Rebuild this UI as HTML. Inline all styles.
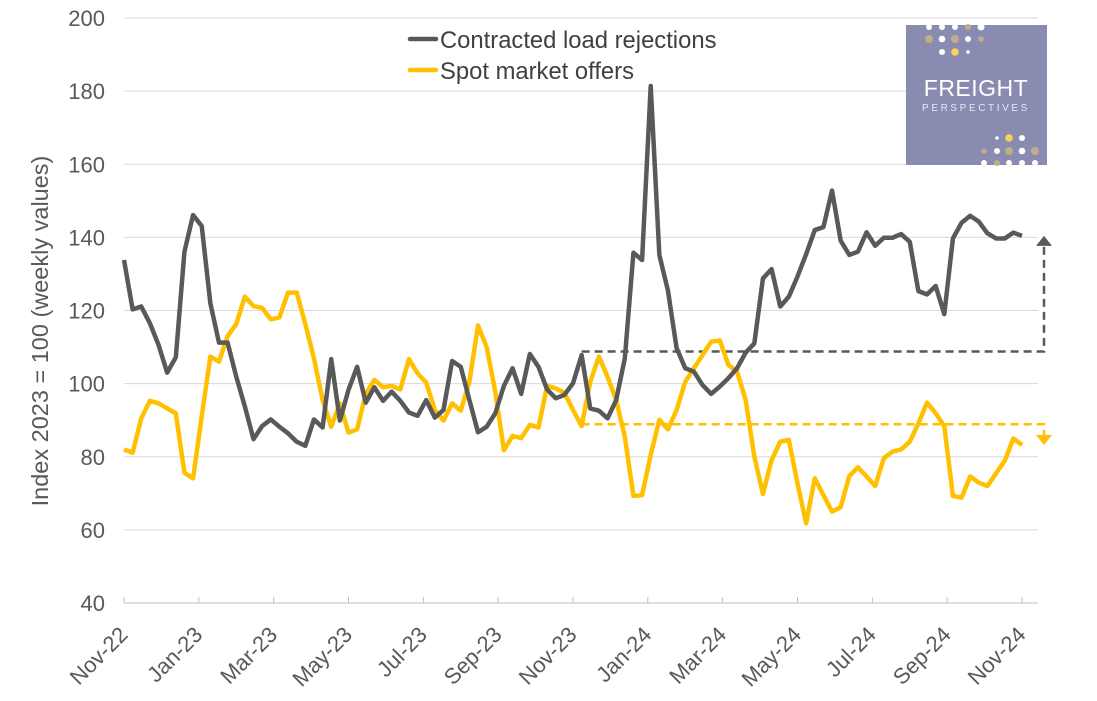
<!DOCTYPE html>
<html><head><meta charset="utf-8"><style>
body{margin:0;background:#fff;}
svg{display:block;font-family:"Liberation Sans",Arial,sans-serif;}
</style></head><body>
<svg id="chart" width="1097" height="701" viewBox="0 0 1097 701" xmlns="http://www.w3.org/2000/svg">
<g id="grid"></g>
<g id="yticks"></g>
<g id="xticks"></g>
<text transform="translate(48,331) rotate(-90)" text-anchor="middle" font-size="23.5" fill="#595959">Index 2023 = 100 (weekly values)</text>
<g id="annot"></g>
<g id="series"></g>
<g>
<g>
<line x1="410" y1="39" x2="436" y2="39" stroke="#595959" stroke-width="4.5" stroke-linecap="round"/>
<text x="440" y="48" font-size="23.8" fill="#404040">Contracted load rejections</text></g>
<g>
<line x1="410" y1="70" x2="436" y2="70" stroke="#FFC000" stroke-width="4.5" stroke-linecap="round"/>
<text x="440" y="79" font-size="23.8" fill="#404040">Spot market offers</text></g>
</g>
<g>
<rect x="906" y="25" width="141" height="140" fill="#8a8bb0"/>
<g id="dots"></g>
<text x="976" y="96" text-anchor="middle" font-size="23" fill="#fff" letter-spacing="0.5">FREIGHT</text>
<text x="976" y="111" text-anchor="middle" font-size="10" fill="#e8e8f2" letter-spacing="2.6">PERSPECTIVES</text>
</g>
</svg>
<script>
const NS="http://www.w3.org/2000/svg";
const yTicks=[40,60,80,100,120,140,160,180,200];
const xLabels=["Nov-22","Jan-23","Mar-23","May-23","Jul-23","Sep-23","Nov-23","Jan-24","Mar-24","May-24","Jul-24","Sep-24","Nov-24"];
const contracted=[133.8,120.3,121.1,116.5,110.6,103,107.2,136.1,146.1,143.1,122,111.2,111.2,101.9,93.7,84.8,88.4,90.2,88.2,86.4,84.1,83,90.2,88,106.7,89.9,98.3,104.6,94.8,99,95.3,97.8,95.3,92.1,91.2,95.5,90.7,92.8,106.2,104.6,95.5,86.7,88.2,91.9,99.4,104.2,97.2,108.1,104.6,98.4,96,96.9,100.1,107.8,93.2,92.6,90.5,95.5,106.9,135.8,133.8,181.4,135.2,125.4,109.7,104.2,103.3,99.6,97.2,99.2,101.5,104.2,108.5,111,128.8,131.3,121.1,123.8,129.3,135.4,142,142.8,152.8,139.1,135.2,136.1,141.4,137.7,139.9,139.9,140.9,138.8,125.3,124.4,126.7,119,139.7,144,145.9,144.3,141.1,139.7,139.7,141.3,140.4];
const spot=[82,81.1,90.5,95.3,94.6,93.2,91.9,75.6,74.1,91,107.4,106,113,116.3,123.8,121.2,120.7,117.6,118.1,124.9,124.9,116.3,106.9,95.5,88.2,94.6,86.6,87.5,97.3,101,99,99.4,98.4,106.7,102.8,100.3,92.8,89.9,94.6,92.6,100.5,115.9,110,97.8,81.8,85.7,85.1,88.7,88,99.4,98.7,97.5,92.8,88.4,100.5,107.4,101.9,95.5,85.5,69.3,69.5,80.5,90.1,87.5,92.8,100.5,104.2,107.8,111.5,111.8,105.1,103.3,95.5,80,69.8,79.1,84.1,84.6,72.7,61.8,74.1,69.5,65,66.2,74.7,77.1,74.6,72,79.6,81.4,82,84.1,89.1,94.8,91.9,88.4,69.3,68.8,74.6,72.9,72,75.5,78.9,85,83.2];
const contractedRef=108.8, spotRef=88.9, refStartIndex=53;

const X0=124,X1=1022,Y0=603,Y1=18;
const N=contracted.length;
const xw=i=>X0+i*(X1-X0)/(N-1);
const xm=m=>X0+m*(X1-X0)/24;
const y=v=>Y0-(v-40)*(Y0-Y1)/160;
function mk(t,a,p){const e=document.createElementNS(NS,t);for(const k in a)e.setAttribute(k,a[k]);p.appendChild(e);return e;}
const grid=document.getElementById('grid'),yt=document.getElementById('yticks'),xt=document.getElementById('xticks');
yTicks.forEach(v=>{
  if(v>40){const l=mk('line',{x1:X0,x2:1038,y1:y(v),y2:y(v),stroke:'#d9d9d9','stroke-width':1},grid);
  
  }
  const t=mk('text',{x:105,y:y(v)+8,'text-anchor':'end','font-size':22,fill:'#595959'},yt);t.textContent=v;
  
  
});
const ax=mk('line',{x1:X0,x2:1038,y1:Y0,y2:Y0,stroke:'#bfbfbf','stroke-width':1},grid);


xLabels.forEach((s,k)=>{
  const xx=xm(k*2);
  mk('line',{x1:xx,x2:xx,y1:Y0-6,y2:Y0,stroke:'#bfbfbf'},xt);
  const t=mk('text',{transform:`translate(${xx+5},${Y0+33}) rotate(-45)`,'text-anchor':'end','font-size':22,fill:'#595959'},xt);t.textContent=s;
  
  
});
const ser=document.getElementById('series');
function line(d,c,name){const p=mk('polyline',{points:d.map((v,i)=>xw(i)+','+y(v)).join(' '),fill:'none',stroke:c,'stroke-width':4.5,'stroke-linejoin':'round'},ser);

}
line(spot,'#FFC000','spot-market-line');
line(contracted,'#595959','contracted-rejections-line');
const an=document.getElementById('annot');
const xs=xw(refStartIndex),xe=1044;
function dash(ref,end,c,name,up){
  const g=mk('g',{},an);
  
  
  const ay=y(end);
  mk('polyline',{points:`${xs},${y(ref)} ${xe},${y(ref)} ${xe},${up?ay+10:ay-10}`,fill:'none',stroke:c,'stroke-width':2.5,'stroke-dasharray':'8,5'},g);
  mk('polygon',{points:up?`${xe-8},${ay+10} ${xe+8},${ay+10} ${xe},${ay}`:`${xe-8},${ay-10} ${xe+8},${ay-10} ${xe},${ay}`,fill:c},g);
}
dash(contractedRef,contracted[N-1],'#595959','contracted-change-arrow',true);
dash(spotRef,spot[N-1],'#FFC000','spot-change-arrow',false);
const dots=document.getElementById('dots');
const W='#ffffff',T='#bfae86',Yl='#f7d35c';
[[929,27,W,3],[942,27,W,3],[955,27,W,3],[968,27,T,3],[981,27,W,3.5],
 [929,39,T,4],[942,39,W,3.3],[955,39,T,4],[968,39,W,3],[981,39,T,2.8],
 [942,52,W,3],[955,52,Yl,3.8],[968,52,W,1.8],
 [997,138,W,1.8],[1009,138,Yl,3.8],[1022,138,W,3],
 [984,151,T,2.8],[997,151,W,3],[1009,151,T,4],[1022,151,W,3.3],[1035,151,T,4],
 [984,163,W,3],[997,163,T,3],[1009,163,W,3],[1022,163,W,3],[1035,163,W,3]].forEach(d=>{
  mk('circle',{cx:d[0],cy:d[1],r:d[3],fill:d[2]},dots);
});
</script>
</body></html>
